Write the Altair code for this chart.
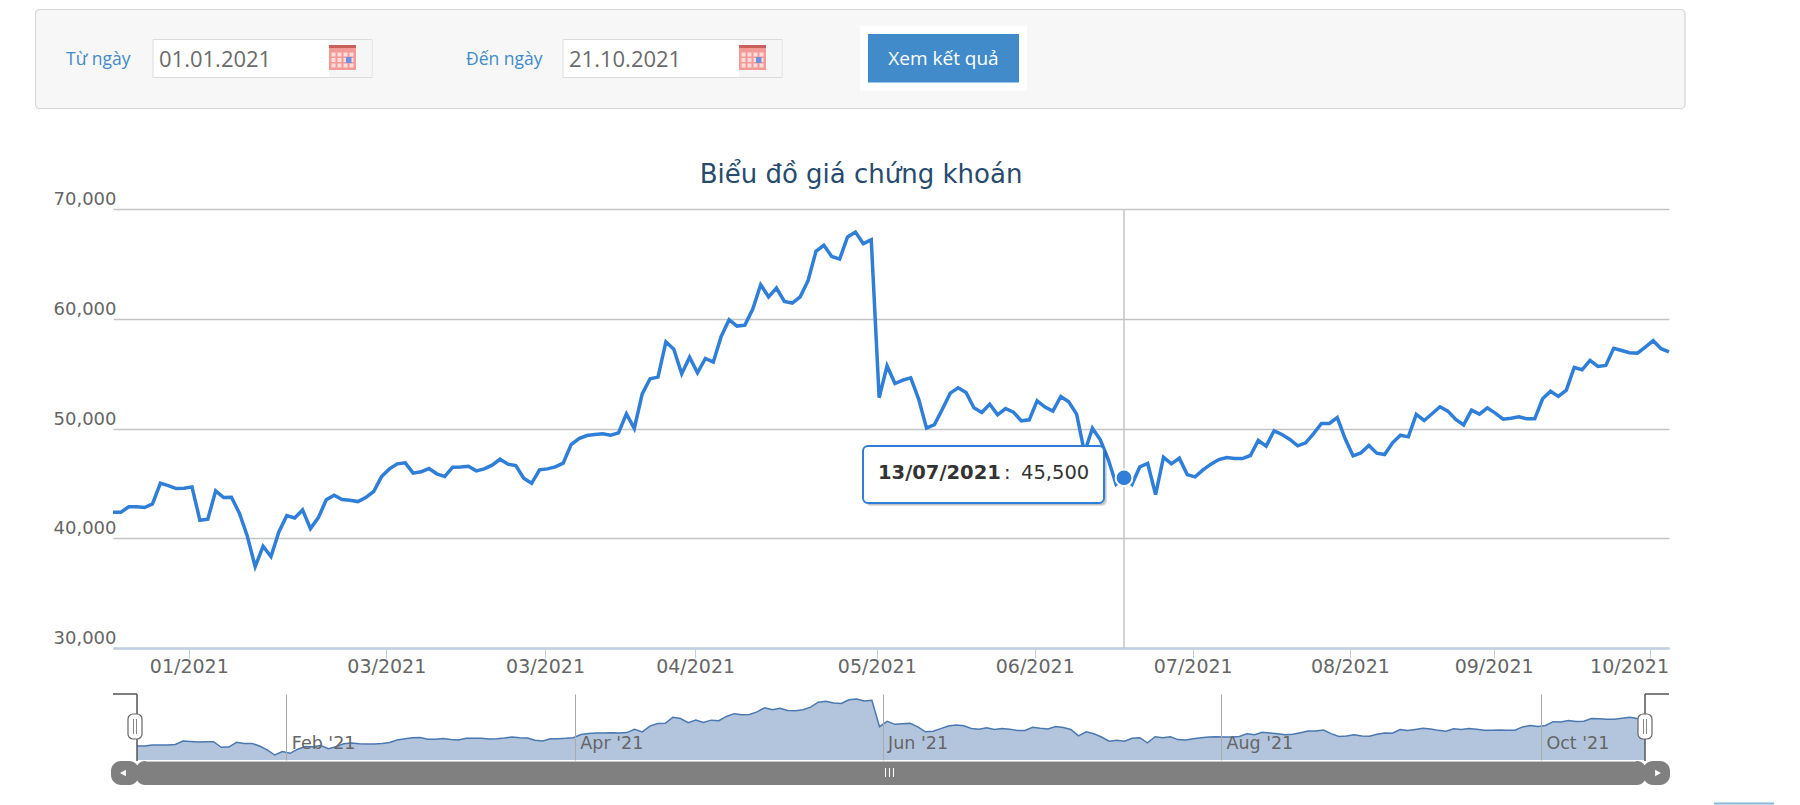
import altair as alt
import pandas as pd

prices = [
 42370,42370,42860,42860,42800,43130,45020,44800,44530,44560,44680,41640,41730,44320,43710,43740,42280,40210,37420,39270,
 38330,40580,42070,41850,42580,40880,41880,43500,43920,43530,43470,43340,43710,44260,45620,46320,46780,46870,45930,46050,
 46350,45870,45620,46470,46500,46560,46140,46320,46660,47200,46750,46630,45470,45010,46230,46320,46500,46840,48540,49090,
 49360,49450,49510,49390,49600,51340,50000,53160,54530,54680,57900,57230,54980,56500,55070,56380,56050,58390,59910,59330,
 59420,60880,63100,62000,62800,61580,61430,62000,63470,66140,66690,65680,65440,67450,67900,66840,67200,52800,55700,54100,
 54410,54620,52680,50030,50360,51760,53220,53710,53280,51880,51460,52220,51250,51820,51490,50700,50790,52520,51950,51580,
 52920,52430,51310,47810,50030,48970,47200,44920,45500,44900,46500,46810,43980,47390,46780,47290,45800,45590,46230,46750,
 47170,47360,47260,47260,47540,48910,48390,49790,49450,49000,48420,48690,49540,50460,50460,51000,49060,47510,47780,48450,
 47750,47630,48700,49390,49240,51280,50730,51340,51980,51580,50820,50330,51670,51310,51880,51400,50850,50940,51060,50880,
 50880,52710,53400,52920,53500,55560,55350,56200,55650,55750,57300,57110,56900,56870,57420,58000,57270,56990,
]
x_tick_pos = [9.6, 34.6, 54.7, 73.7, 96.7, 116.7, 136.7, 156.6, 174.8, 194.6]
x_tick_labels = ["01/2021","03/2021","03/2021","04/2021","05/2021","06/2021","07/2021","08/2021","09/2021","10/2021"]
y_ticks = [30000, 40000, 50000, 60000, 70000]
nav_tick_pos = [19.5, 57.2, 97.4, 141.6, 183.4]
nav_tick_labels = ["Feb '21","Apr '21","Jun '21","Aug '21","Oct '21"]
hover_index = 128
hover_value = 45500
hover_date = "13/07/2021"

df = pd.DataFrame({"i": list(range(len(prices))), "p": prices})
hover = pd.DataFrame({"i": [hover_index], "p": [hover_value]})

OX, FY, MY, NY = 113, 9, 209, 694
W, MH, NH = 1556, 439, 66
AX = "DejaVu Sans"
UI = "Open Sans"

def rect(ox, oy, x0, y0, x1, y1, fill, stroke=None, sw=0, r=0, op=1):
    kw = dict(fill=fill, opacity=op, cornerRadius=r)
    if stroke:
        kw.update(stroke=stroke, strokeWidth=sw)
    return alt.Chart().mark_rect(**kw).encode(
        x=alt.value(x0-ox), x2=alt.value(x1-ox), y=alt.value(y0-oy), y2=alt.value(y1-oy))

def rule(ox, oy, x0, y0, x1, y1, color, w=1):
    m = alt.Chart().mark_rule(color=color, strokeWidth=w)
    if y0 == y1:
        return m.encode(x=alt.value(x0-ox), x2=alt.value(x1-ox), y=alt.value(y0-oy))
    return m.encode(x=alt.value(x0-ox), y=alt.value(y0-oy), y2=alt.value(y1-oy))

def text(ox, oy, s, x, y, size, color, font=UI, align="left", weight="normal"):
    return alt.Chart().mark_text(text=s, font=font, fontSize=size, color=color, align=align,
                                 baseline="alphabetic", fontWeight=weight).encode(
        x=alt.value(x-ox), y=alt.value(y-oy))

# ---------- form ----------
form_layers = [
    rect(OX, FY, 35.5, 9.5, 1685, 108.5, "#f7f7f7", "#d6d6d6", 1.2, 4),
    text(OX, FY, "Từ ngày", 66, 65, 17.5, "#428bca"),
    text(OX, FY, "Đến ngày", 466, 65, 17.5, "#428bca"),
]
for (x0, lab) in [(153, "01.01.2021"), (563, "21.10.2021")]:
    form_layers += [
        rect(OX, FY, x0, 39.5, x0+219, 77.5, "#ffffff", "#dcdcdc", 1),
        rect(OX, FY, x0+176, 40, x0+218.5, 77, "#f6f6f6"),
        text(OX, FY, lab, x0+6, 67, 22, "#6b6b6b"),
        rect(OX, FY, x0+176, 45, x0+203, 70, "#f29a96"),
        rect(OX, FY, x0+176, 45, x0+203, 48, "#c9605c"),
    ]
    for cx in range(4):
        for cy in range(3):
            form_layers.append(rect(OX, FY, x0+178.5+cx*6, 52.5+cy*5.5, x0+182.5+cx*6, 56.5+cy*5.5, "#fbdcda"))
    form_layers.append(rect(OX, FY, x0+193, 57, x0+198.5, 63, "#6f8fe0"))
form_layers += [
    rect(OX, FY, 860, 26, 1027, 90.5, "#ffffff"),
    rect(OX, FY, 868, 34, 1019, 82.5, "#428bca"),
    text(OX, FY, "Xem kết quả", 943.5, 65, 19, "#ffffff", align="center"),
    text(OX, FY, "Biểu đồ giá chứng khoán", 861, 183, 26, "#274b6d", font=AX, align="center"),
]
form = alt.layer(*form_layers).properties(width=W, height=154)

# ---------- main ----------
label_expr = "%s[indexof(%s, datum.value)]" % (x_tick_labels, x_tick_pos)
xs = alt.Scale(domain=[0, len(prices)-1], nice=False, zero=False)
ys = alt.Scale(domain=[30000, 70000], nice=False, zero=False)
x_axis = alt.Axis(values=x_tick_pos, labelExpr=label_expr, title=None, grid=False,
                  domainColor="#c0d0e0", domainWidth=2.5, tickColor="#c0d0e0", tickWidth=1, tickSize=10,
                  labelFont=AX, labelFontSize=19, labelColor="#666666", labelPadding=-1,
                  labelOverlap=False, labelFlush=False,
                  labelOffset=alt.expr("datum.value > 190 ? -21 : 0"))
y_axis = alt.Axis(values=y_ticks, format=",.0f", title=None, grid=True, gridColor="#c4c4c4", gridWidth=1.5,
                  domain=False, ticks=False, labelFont=AX, labelFontSize=18, labelColor="#666666",
                  labelAlign="right", labelBaseline="alphabetic", labelOffset=-4.5, labelPadding=-3)

line = alt.Chart(df).mark_line(color="#2f7ed8", strokeWidth=3.5, interpolate="linear").encode(
    x=alt.X("i:Q", scale=xs, axis=x_axis), y=alt.Y("p:Q", scale=ys, axis=y_axis))
cross = alt.Chart(hover).mark_rule(color="#c4c4c4", strokeWidth=1.5).encode(x=alt.X("i:Q", scale=xs))
dot = alt.Chart(hover).mark_point(filled=True, fill="#2f7ed8", stroke="#ffffff", strokeWidth=2, size=280, opacity=1).encode(
    x=alt.X("i:Q", scale=xs), y=alt.Y("p:Q", scale=ys))
tip = [
    rect(OX, MY, 866, 449, 1107, 506, "#000000", r=5, op=0.12),
    rect(OX, MY, 865, 448, 1106, 505, "#000000", r=5, op=0.12),
    rect(OX, MY, 863, 446, 1104, 503, "#ffffff", "#2f7ed8", 2, 5, 1),
    text(OX, MY, hover_date, 878, 479, 19.5, "#333333", font=AX, weight="bold"),
    text(OX, MY, ":", 1004, 479, 19.5, "#333333", font=AX),
    text(OX, MY, "45,500", 1021, 479, 19.5, "#333333", font=AX),
]
main = alt.layer(cross, line, dot, *tip).properties(width=W, height=MH)

# ---------- navigator ----------
nx = alt.Scale(domain=[0, len(prices)-1], range=[137-OX, 1645-OX], nice=False, zero=False)
ny = alt.Scale(domain=[34700, 70600], range=[NH, 0], nice=False, zero=False)
nav_expr = "%s[indexof(%s, datum.value)]" % (nav_tick_labels, nav_tick_pos)
nav_axis = alt.Axis(values=nav_tick_pos, labelExpr=nav_expr, title=None, grid=True, gridColor="#aaaaaa", gridWidth=1,
                    domain=False, ticks=False, labelFont=AX, labelFontSize=17.5, labelColor="#666666",
                    labelAlign="left", labelBaseline="alphabetic", labelOffset=5, labelPadding=-12,
                    labelOverlap=False, labelFlush=False, zindex=1)
area = alt.Chart(df).mark_area(fill="#b3c5dd", opacity=1).encode(
    x=alt.X("i:Q", scale=nx, axis=nav_axis),
    y=alt.Y("p:Q", scale=ny, axis=None),
    y2=alt.datum(34700))
nline = alt.Chart(df).mark_line(color="#4a78b0", strokeWidth=1.5).encode(
    x=alt.X("i:Q", scale=nx), y=alt.Y("p:Q", scale=ny))

ui = [rect(OX, NY, 111, 761, 1671, 785, "#ffffff")]
ui += [
    rect(OX, NY, 111, 761, 139, 785, "#808080", r=10),
    rect(OX, NY, 1643, 761, 1670, 785, "#808080", r=10),
    rect(OX, NY, 136, 761, 1646, 785, "#808080", r=9),
    rule(OX, NY, 146, 761.5, 1636, 761.5, "#c8c8c8", 1),
    rule(OX, NY, 885.5, 768, 885.5, 777, "#ffffff", 1),
    rule(OX, NY, 889.5, 768, 889.5, 777, "#ffffff", 1),
    rule(OX, NY, 893.5, 768, 893.5, 777, "#ffffff", 1),
    alt.Chart().mark_point(shape="triangle-left", filled=True, fill="#ffffff", size=45, opacity=1).encode(
        x=alt.value(123-OX), y=alt.value(773-NY)),
    alt.Chart().mark_point(shape="triangle-right", filled=True, fill="#ffffff", size=45, opacity=1).encode(
        x=alt.value(1658-OX), y=alt.value(773-NY)),
]
for (vx, end, px0, px1) in [(137, 113, 128, 142), (1645, 1669, 1638, 1652)]:
    ui += [
        rule(OX, NY, min(vx, end), 694, max(vx, end), 694, "#555555", 1.5),
        rule(OX, NY, vx, 694, vx, 761, "#555555", 1.5),
        rect(OX, NY, px0, 714, px1, 739, "#ffffff", "#666666", 1.2, 5),
        rule(OX, NY, (px0+px1)/2-1.5, 719, (px0+px1)/2-1.5, 734, "#888888", 1),
        rule(OX, NY, (px0+px1)/2+1.5, 719, (px0+px1)/2+1.5, 734, "#888888", 1),
    ]
ui.append(rule(OX, NY, 1714, 803.5, 1774, 803.5, "#85b8d6", 2))
nav = alt.layer(area, nline, *ui).properties(width=W, height=NH)

chart = alt.vconcat(form, main, nav, spacing=46, bounds="flush").resolve_scale(
    x="independent", y="independent"
).properties(
    padding={"left": 26, "top": 0, "right": 0, "bottom": 0},
    background="#ffffff",
).configure_view(stroke="transparent")

chart.save("out.html", embed_options={"renderer": "svg", "actions": False})
